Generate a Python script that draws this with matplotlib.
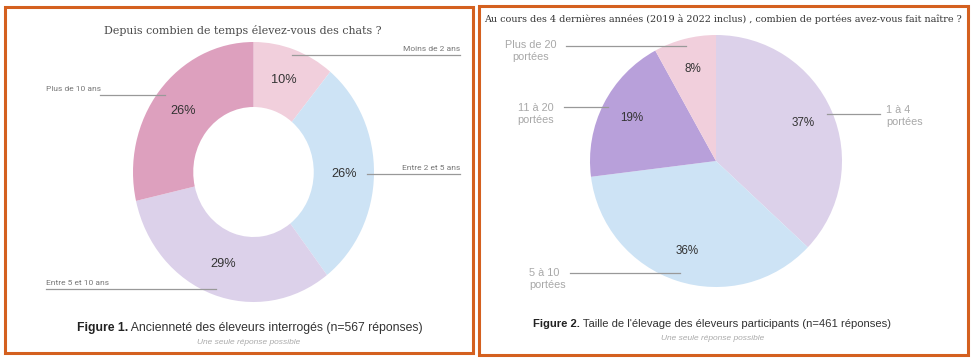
import matplotlib.pyplot as plt
import numpy as np
from matplotlib.patches import Rectangle

# Figure 1 data (donut)
anc_labels = ["Moins de 2 ans", "Entre 2 et 5 ans", "Entre 5 et 10 ans", "Plus de 10 ans"]
anc_values = [10, 26, 29, 26]
anc_colors = ["#f1cfdc", "#cde3f5", "#dcd1ea", "#dda0be"]

# Figure 2 data (pie)
port_labels = ["1 à 4\nportées", "5 à 10\nportées", "11 à 20\nportées", "Plus de 20\nportées"]
port_values = [37, 36, 19, 8]
port_colors = ["#dcd1ea", "#cde3f5", "#b8a0da", "#f1cfdc"]

W, H = 972, 360
ORANGE = "#d4601f"


def px_axes(fig, x0, y0, x1, y1, **kw):
    # axes placed by pixel box (top-left origin)
    return fig.add_axes([x0 / W, 1 - y1 / H, (x1 - x0) / W, (y1 - y0) / H], **kw)


def pct_texts(ax, wedges, values, dist, size):
    for w, v in zip(wedges, values):
        mid = np.deg2rad((w.theta1 + w.theta2) / 2)
        ax.text(dist * np.cos(mid), dist * np.sin(mid), f"{v}%", ha="center", va="center",
                fontsize=size, color="#333333", family="Liberation Sans")


def main() -> None:
    fig = plt.figure(figsize=(W / 100, H / 100), dpi=100)

    # overlay in pixel coordinates for frames, titles, labels
    ov = fig.add_axes([0, 0, 1, 1], zorder=10)
    ov.set_xlim(0, W)
    ov.set_ylim(H, 0)
    ov.axis("off")

    ov.add_patch(Rectangle((5, 7), 468, 346, fill=False, ec=ORANGE, lw=2.2))
    ov.add_patch(Rectangle((479, 6), 489, 349, fill=False, ec=ORANGE, lw=2.2))

    # ---- Figure 1: donut
    ax1 = px_axes(fig, 133, 42, 374, 302)
    wedges, _ = ax1.pie(anc_values, colors=anc_colors, startangle=90, counterclock=False,
                        radius=1.0, wedgeprops=dict(width=0.5, linewidth=0))
    ax1.set_aspect("auto")
    ax1.set_xlim(-1, 1)
    ax1.set_ylim(-1, 1)
    pct_texts(ax1, wedges, anc_values, 0.75, 9.2)

    ov.text(243, 30, "Depuis combien de temps élevez-vous des chats ?", ha="center", va="center",
            fontsize=7.9, color="#4a4a4a", family="DejaVu Serif")

    lab_kw = dict(fontsize=6.0, color="#777777", family="Roboto")
    line_kw = dict(color="#999999", lw=0.9)
    ov.text(460, 52, anc_labels[0], ha="right", va="bottom", **lab_kw)
    ov.plot([292, 460], [55, 55], **line_kw)
    ov.text(460, 171, anc_labels[1], ha="right", va="bottom", **lab_kw)
    ov.plot([367, 460], [174, 174], **line_kw)
    ov.text(46, 286, anc_labels[2], ha="left", va="bottom", **lab_kw)
    ov.plot([46, 216], [289, 289], **line_kw)
    ov.text(46, 92, anc_labels[3], ha="left", va="bottom", **lab_kw)
    ov.plot([100, 165], [95, 95], **line_kw)

    t1 = ov.text(77, 328, "Figure 1.", ha="left", va="center", fontsize=8.8,
                 fontweight="bold", color="#222222", family="Liberation Sans")
    ov.annotate(" Ancienneté des éleveurs interrogés (n=567 réponses)", xy=(1, 0.5), xycoords=t1,
                ha="left", va="center", fontsize=8.8, color="#333333", family="Liberation Sans")
    ov.text(249, 343, "Une seule réponse possible", ha="center", va="center", fontsize=6,
            style="italic", color="#aaaaaa", family="Liberation Sans")

    # ---- Figure 2: pie
    ax2 = px_axes(fig, 590, 35, 842, 287)
    wedges, _ = ax2.pie(port_values, colors=port_colors, startangle=90, counterclock=False,
                        radius=1.0, wedgeprops=dict(linewidth=0))
    ax2.set_aspect("auto")
    ax2.set_xlim(-1, 1)
    ax2.set_ylim(-1, 1)
    pct_texts(ax2, wedges, port_values, 0.75, 8.4)

    ov.text(723, 19, "Au cours des 4 dernières années (2019 à 2022 inclus) , combien de portées avez-vous fait naître ?",
            ha="center", va="center", fontsize=6.9, color="#333333", family="DejaVu Serif")

    plab = dict(fontsize=7.8, color="#a8a8a8", family="Liberation Sans", linespacing=1.25)
    ov.text(886, 116, port_labels[0], ha="left", va="center", **plab)
    ov.plot([827, 880], [114, 114], **line_kw)
    ov.text(529, 279, port_labels[1], ha="left", va="center", **plab)
    ov.plot([570, 680], [273, 273], **line_kw)
    ov.text(536, 114, port_labels[2], ha="center", va="center", **plab)
    ov.plot([564, 608], [107, 107], **line_kw)
    ov.text(531, 51, port_labels[3], ha="center", va="center", **plab)
    ov.plot([566, 686], [46, 46], **line_kw)

    t2 = ov.text(533, 324, "Figure 2.", ha="left", va="center", fontsize=8.1,
                 fontweight="bold", color="#222222", family="Liberation Sans")
    ov.annotate(" Taille de l'élevage des éleveurs participants (n=461 réponses)", xy=(1, 0.5), xycoords=t2,
                ha="left", va="center", fontsize=8.1, color="#333333", family="Liberation Sans")
    ov.text(713, 338, "Une seule réponse possible", ha="center", va="center", fontsize=6,
            style="italic", color="#aaaaaa", family="Liberation Sans")

    fig.savefig("out.png", dpi=100)


if __name__ == "__main__":
    main()
